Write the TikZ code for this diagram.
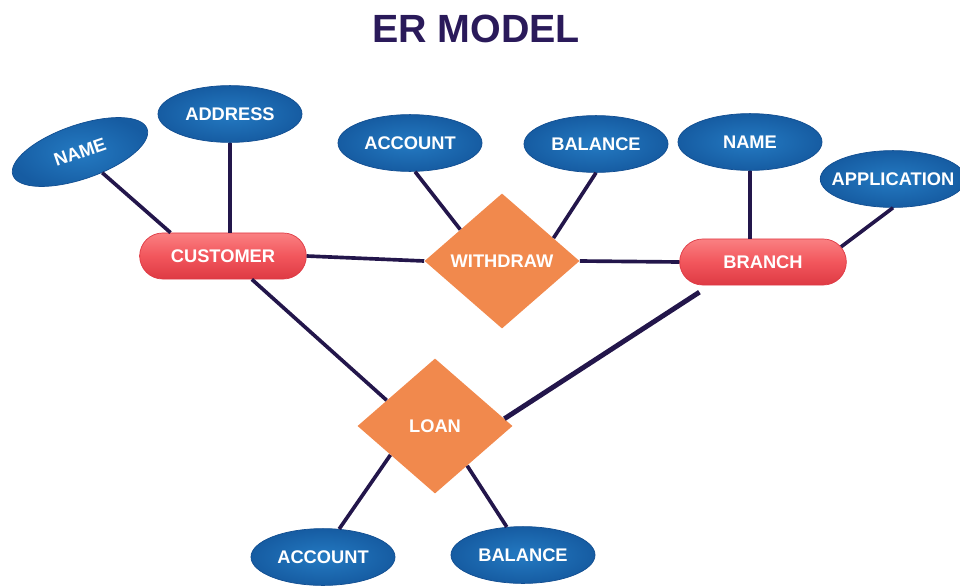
\documentclass[tikz,border=0pt]{standalone}
\usepackage{fontspec}
\setmainfont{Liberation Sans}
\usepackage{xcolor}
\usepackage{tikz}
\usetikzlibrary{shapes.geometric,shapes.misc}
\definecolor{azulAtrib}{RGB}{36,122,194}
\definecolor{azulOsc}{RGB}{22,92,162}
\definecolor{azulBorde}{RGB}{18,78,145}
\definecolor{rojoEnt}{RGB}{242,86,92}
\definecolor{rojoClaro}{RGB}{250,128,130}
\definecolor{rojoOsc}{RGB}{222,58,68}
\definecolor{naranjaRel}{RGB}{241,137,77}
\definecolor{lineaOsc}{RGB}{35,22,75}
\definecolor{tituloMor}{RGB}{42,26,90}

\begin{document}
\begin{tikzpicture}[x=0.025cm, y=-0.025cm,
  atrib/.style={ellipse, draw=azulBorde, line width=0.5pt,
    inner color=azulAtrib, outer color=azulOsc, text=white,
    minimum width=3.6cm, minimum height=1.42cm, inner sep=1pt,
    font=\fontsize{13}{15}\selectfont\bfseries},
  entidad/.style={rounded rectangle, draw=rojoOsc, line width=0.5pt,
    top color=rojoClaro, bottom color=rojoOsc, middle color=rojoEnt,
    text=white, minimum width=4.4cm, minimum height=1.15cm,
    font=\fontsize{13}{15}\selectfont\bfseries},
  relacion/.style={diamond, fill=naranjaRel, text=white, aspect=1.15,
    minimum width=3.875cm, minimum height=3.375cm, inner sep=1pt,
    font=\fontsize{13}{15}\selectfont\bfseries},
  enlace/.style={draw=lineaOsc, line width=2.6pt}]
  \useasboundingbox (0,0) rectangle (960,586);
  % Title
  \node[font=\fontsize{28}{32}\selectfont\bfseries, text=tituloMor]
    (titulo) at (476,29) {ER MODEL};
  % Entities
  \node[entidad] (customer) at (223,256) {CUSTOMER};
  \node[entidad] (branch) at (763,262) {BRANCH};
  % Relationships
  \node[relacion] (withdraw) at (502,261) {WITHDRAW};
  \node[relacion] (loan) at (435,426) {LOAN};
  % Attributes
  \node[atrib, rotate=19, minimum width=3.55cm, minimum height=1.35cm]
    (cname) at (80,152) {NAME};
  \node[atrib] (caddress) at (230,114) {ADDRESS};
  \node[atrib] (waccount) at (410,143) {ACCOUNT};
  \node[atrib] (wbalance) at (596,144) {BALANCE};
  \node[atrib] (bname) at (750,142) {NAME};
  \node[atrib, inner xsep=-7pt] (bapp) at (893,179) {APPLICATION};
  \node[atrib] (laccount) at (323,557) {ACCOUNT};
  \node[atrib] (lbalance) at (523,555) {BALANCE};
  % Links
  \draw[enlace] (cname.-62) -- (customer.156);
  \draw[enlace] (caddress.south) -- (caddress.south |- customer.north);
  \draw[enlace] (customer.east) -- (withdraw.west);
  \draw[enlace] (waccount.-80) -- (withdraw.143);
  \draw[enlace] (wbalance.south) -- (withdraw.24);
  \draw[enlace] (withdraw.east) -- (branch.west);
  \draw[enlace] (bname.south) -- (bname.south |- branch.north);
  \draw[enlace] (bapp.south) -- (branch.11);
  \draw[enlace] (customer.-39) -- (loan.152);
  \draw[enlace, line width=3.5pt] ([shift={(0,7)}]branch.-160) -- (loan.6);
  \draw[enlace] (loan.213) -- (laccount.60);
  \draw[enlace] (loan.-51) -- (lbalance.120);
\end{tikzpicture}
\end{document}
